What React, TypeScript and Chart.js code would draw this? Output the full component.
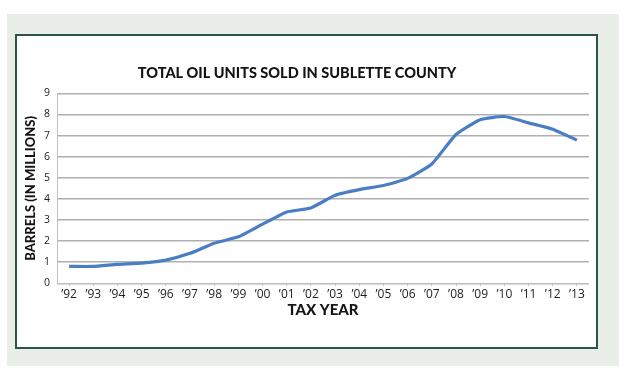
import React, { useEffect, useRef } from "react";
import { Chart, registerables } from "chart.js";

Chart.register(...registerables);

const years = ["’92","’93","’94","’95","’96","’97","’98","’99","’00","’01","’02","’03","’04","’05","’06","’07","’08","’09","’10","’11","’12","’13"];
const barrels = [0.8, 0.8, 0.9, 0.96, 1.1, 1.42, 1.9, 2.2, 2.8, 3.38, 3.57, 4.17, 4.44, 4.63, 4.97, 5.65, 7.05, 7.75, 7.9, 7.6, 7.3, 6.78];
const yTicksMax = 9;
const titleText = "TOTAL OIL UNITS SOLD IN SUBLETTE COUNTY";
const xTitle = "TAX YEAR";
const yTitle = "BARRELS (IN MILLIONS)";

export default function App() {
  const ref = useRef<HTMLCanvasElement | null>(null);
  useEffect(() => {
    if (!ref.current) return;
    const chart = new Chart(ref.current, {
      type: "line",
      data: {
        labels: years,
        datasets: [
          {
            data: barrels,
            borderColor: "#4a7ec4",
            borderWidth: 3.2,
            pointRadius: 0,
            tension: 0.15,
            fill: false,
          },
        ],
      },
      options: {
        responsive: false,
        animation: false,
        layout: { padding: { left: 0, right: 0, top: 0, bottom: 0 } },
        plugins: {
          legend: { display: false },
          tooltip: { enabled: false },
          title: {
            display: true,
            text: titleText,
            color: "#141414",
            font: { family: "Lato", size: 14.5, weight: "900" },
            padding: { top: 28.3, bottom: 11.6 },
          },
        },
        scales: {
          x: {
            offset: true,
            grid: { drawOnChartArea: false, drawTicks: true, tickLength: 3, color: "#c8c8c8" },
            border: { color: "#c0c0c0", width: 1 },
            ticks: {
              autoSkip: false,
              maxRotation: 0,
              padding: 1,
              color: "#222222",
              font: { family: "Open Sans", size: 12 },
            },
            title: {
              display: true,
              text: xTitle,
              color: "#141414",
              font: { family: "Lato", size: 15, weight: "900" },
              padding: { top: 0, bottom: 28 },
            },
            afterFit: (s: any) => {
              s.height = 63.7;
            },
          },
          y: {
            min: 0,
            max: yTicksMax,
            grid: { drawTicks: false, color: "#b0b0b0", lineWidth: 1.5 },
            border: { color: "#c0c0c0", width: 1 },
            ticks: {
              stepSize: 1,
              padding: 7,
              color: "#222222",
              font: { family: "Open Sans", size: 10.5 },
            },
            title: {
              display: true,
              text: yTitle,
              color: "#141414",
              font: { family: "Lato", size: 13, weight: "900" },
              padding: { top: 18, bottom: 0 },
            },
            afterFit: (s: any) => {
              s.width = 52;
            },
          },
        },
      },
    });
    return () => chart.destroy();
  }, []);

  return (
    <div style={{ position: "absolute", left: 0, top: 0, width: 625, height: 390, background: "#ffffff" }}>
      <div style={{ position: "absolute", left: 7, top: 14, width: 612, height: 352, background: "#e9eee9" }} />
      <div
        style={{
          position: "absolute",
          left: 15,
          top: 34,
          width: 579,
          height: 311,
          background: "#ffffff",
          border: "2px solid #2c5547",
        }}
      />
      <canvas
        ref={ref}
        width={584}
        height={311}
        style={{ position: "absolute", left: 5, top: 36, width: 584, height: 311 }}
      />
    </div>
  );
}
